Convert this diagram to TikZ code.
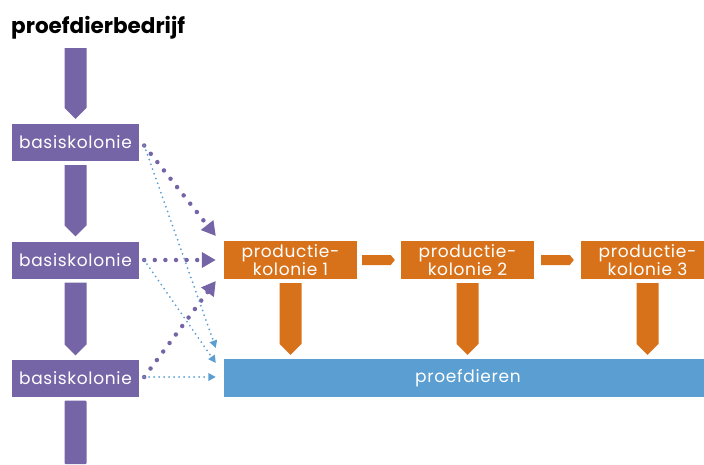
\documentclass[tikz,border=0pt]{standalone}
\usepackage{fontspec}
\setmainfont{Poppins}
\newfontfamily\boxfont[LetterSpace=4]{Poppins}
\usepackage{tikz}
\usetikzlibrary{arrows.meta,calc,positioning}
\definecolor{ColonyPurple}{HTML}{7565A6}
\definecolor{ProdOrange}{HTML}{D8721A}
\definecolor{AnimalBlue}{HTML}{5A9ED2}
\newcommand{\blockdown}[3]{%
  \path[fill=#1]
    ($(#2)+(-11,0)$) -- ($(#2)+(11,0)$)
    -- ($(#3)+(11,-11)$) -- (#3) -- ($(#3)+(-11,-11)$) -- cycle;
}
\newcommand{\blockright}[3]{%
  \path[fill=#1]
    ($(#2)+(0,-5)$) -- ($(#3)+(-4,-5)$)
    -- (#3) -- ($(#3)+(-4,5)$) -- ($(#2)+(0,5)$) -- cycle;
}
\tikzset{
  colonybox/.style={rectangle,fill=ColonyPurple,text=white,inner sep=0pt,
    minimum width=127pt,minimum height=37pt,font=\boxfont\fontsize{17}{17}\selectfont},
  prodbox/.style={rectangle,fill=ProdOrange,text=white,inner sep=0pt,align=center,
    minimum width=133pt,minimum height=38pt,font=\boxfont\fontsize{17}{16.5}\selectfont},
  purpledots/.style={draw=ColonyPurple,line width=4.5pt,line cap=round,
    dash pattern=on 0pt off 10.6pt,-{Triangle[length=14pt,width=15pt]}},
  bluedots/.style={draw=AnimalBlue,line width=2pt,line cap=round,
    dash pattern=on 0pt off 5pt,-{Triangle[length=7.5pt,width=7.5pt]}}
}

\begin{document}
\begin{tikzpicture}[x=1pt,y=-1pt,line join=miter]
        \useasboundingbox (0,0) rectangle (704,464);
        \node[anchor=base west,inner sep=0pt,font=\fontsize{21.5}{21.5}\selectfont\bfseries]
          (title) at (11,33) {proefdierbedrijf};
        % breeding colonies on the left
        \node[colonybox] (basis1) at (75.5,142.5) {basiskolonie};
        \node[colonybox] (basis2) at (75.5,260) {basiskolonie};
        \node[colonybox] (basis3) at (75.5,378) {basiskolonie};
        % production colonies and the animals they deliver
        \node[prodbox] (prod1) at (290.5,260) {productie-\\kolonie 1};
        \node[prodbox] (prod2) at (467.5,260) {productie-\\kolonie 2};
        \node[prodbox] (prod3) at (647.5,260) {productie-\\kolonie 3};
        \node[rectangle,fill=AnimalBlue,text=white,inner sep=0pt,
              minimum width=488pt,minimum height=38pt,font=\boxfont\fontsize{17}{17}\selectfont]
          (dieren) at (468,378) {proefdieren};
        \coordinate (feed) at (basis1.north |- 0,48);
        \coordinate (out) at (basis3.south |- 0,464);
        % purple chain
        \blockdown{ColonyPurple}{feed}{$(basis1.north)+(0,-5)$}
        \blockdown{ColonyPurple}{$(basis1.south)+(0,4)$}{$(basis2.north)+(0,-5)$}
        \blockdown{ColonyPurple}{$(basis2.south)+(0,4)$}{$(basis3.north)+(0,-4)$}
        \path[fill=ColonyPurple,rounded corners=1pt]
          ($(basis3.south)+(-11,4)$) rectangle ($(out)+(11,0)$);
        % orange chain
        \blockright{ProdOrange}{$(prod1.east)+(5,0)$}{$(prod2.west)+(-6,0)$}
        \blockright{ProdOrange}{$(prod2.east)+(7,0)$}{$(prod3.west)+(-7,0)$}
        \foreach \p in {prod1,prod2,prod3}{
          \blockdown{ProdOrange}{$(\p.south)+(0,4)$}{$(\p.south |- dieren.north)+(0,-4)$}
        }
        % dotted transfers
        \draw[purpledots] ($(basis1.east)+(5,3)$) -- ($(prod1.west)+(-8,-24)$);
        \draw[purpledots] ($(basis2.east)+(5,0)$) -- ($(prod1.west)+(-8,0)$);
        \draw[purpledots] ($(basis3.east)+(5,-1)$) -- ($(prod1.west)+(-8,21)$);
        \draw[bluedots] ($(basis1.east)+(5,3)$) -- ($(dieren.west)+(-8,-30)$);
        \draw[bluedots] ($(basis2.east)+(5,0)$) -- ($(dieren.west)+(-8,-15)$);
        \draw[bluedots] ($(basis3.east)+(5,-1)$) -- ($(dieren.west)+(-8,-1)$);
      \end{tikzpicture}
\end{document}
